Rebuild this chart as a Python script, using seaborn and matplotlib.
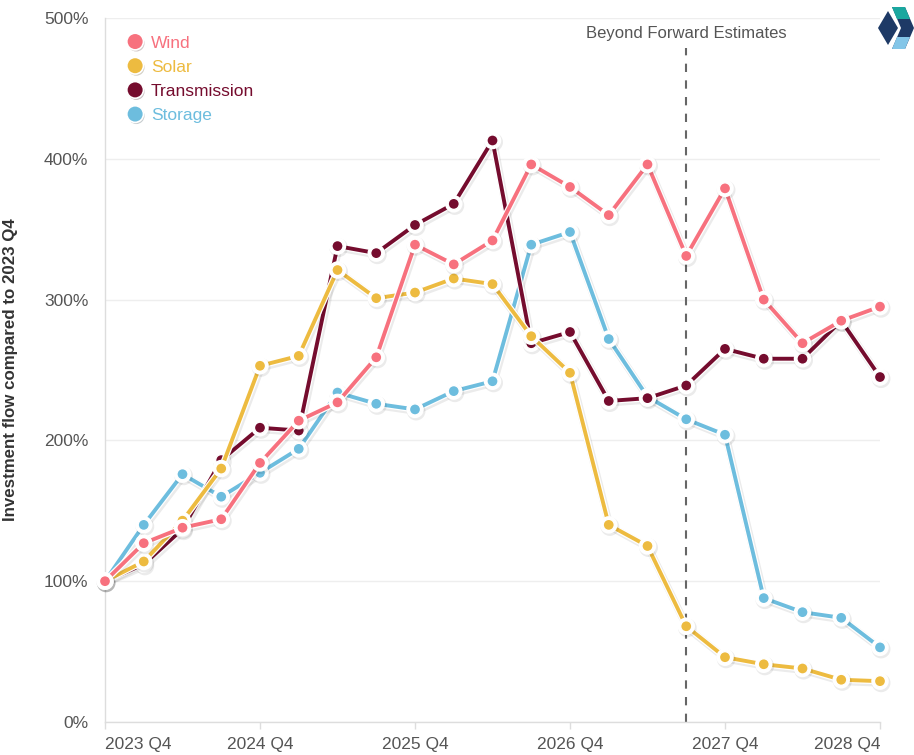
import matplotlib
matplotlib.use("Agg")
import matplotlib.pyplot as plt
import matplotlib.patheffects as pe
from matplotlib.patches import Polygon
import matplotlib.colors as mcolors
import seaborn as sns
import pandas as pd
import numpy as np

quarters = ["2023 Q4", "2024 Q1", "2024 Q2", "2024 Q3", "2024 Q4", "2025 Q1", "2025 Q2",
            "2025 Q3", "2025 Q4", "2026 Q1", "2026 Q2", "2026 Q3", "2026 Q4", "2027 Q1",
            "2027 Q2", "2027 Q3", "2027 Q4", "2028 Q1", "2028 Q2", "2028 Q3", "2028 Q4"]

wind = [100, 127, 138, 144, 184, 214, 227, 259, 339, 325, 342, 396, 380, 360, 396, 331,
        379, 300, 269, 285, 295]
solar = [100, 114, 143, 180, 253, 260, 321, 301, 305, 315, 311, 274, 248, 140, 125, 68,
         46, 41, 38, 30, 29]
transmission = [100, 112, 137, 186, 209, 207, 338, 333, 353, 368, 413, 269, 277, 228, 230,
                239, 265, 258, 258, 285, 245]
storage = [100, 140, 176, 160, 177, 194, 234, 226, 222, 235, 242, 339, 348, 272, 231, 215,
           204, 88, 78, 74, 53]

series_names = ["Wind", "Solar", "Transmission", "Storage"]
colors = {"Wind": "#F7717E", "Solar": "#EDBB40", "Transmission": "#750C2E", "Storage": "#6DBDDE"}
tick_labels = ["2023 Q4", "2024 Q4", "2025 Q4", "2026 Q4", "2027 Q4", "2028 Q4"]
forecast_quarter = "2027 Q3"
annotation = "Beyond Forward Estimates"

frames = []
for name, vals in zip(series_names, [wind, solar, transmission, storage]):
    frames.append(pd.DataFrame({"idx": np.arange(len(quarters)), "quarter": quarters,
                                "value": vals, "series": name}))
df = pd.concat(frames, ignore_index=True)

sns.set_theme(style="white")
plt.rcParams["font.family"] = ["Liberation Sans", "DejaVu Sans"]

W, H = 914, 755
fig = plt.figure(figsize=(W / 100, H / 100), dpi=100)
ax = fig.add_axes([105 / W, 1 - 722 / H, (880 - 105) / W, (722 - 18) / H])

sns.lineplot(data=df, x="idx", y="value", hue="series", palette=colors,
             hue_order=series_names, marker="o", markersize=8, linewidth=2.8,
             markeredgecolor="white", markeredgewidth=1.0, ax=ax, legend=False)

zorders = {"Wind": 6, "Solar": 5, "Transmission": 4, "Storage": 3}
color_to_name = {mcolors.to_hex(c): n for n, c in colors.items()}
for line in ax.lines:
    name = color_to_name.get(mcolors.to_hex(line.get_color()))
    if name is None:
        continue
    line.set_zorder(zorders[name])
    line.set_clip_on(False)
    line.set_path_effects([
        pe.SimpleLineShadow(offset=(0.8, -1.2), shadow_color="black", alpha=0.08, linewidth=5.5),
        pe.Stroke(linewidth=4.6, foreground="white"),
        pe.Normal()])

ax.set_xlim(0, len(quarters) - 1)
ax.set_ylim(0, 500)
ax.set_yticks([0, 100, 200, 300, 400, 500])
ax.set_yticklabels([f"{v}%" for v in [0, 100, 200, 300, 400, 500]])
xt = [quarters.index(t) for t in tick_labels]
ax.set_xticks(xt)
ax.set_xticklabels(tick_labels)
xl = ax.get_xticklabels()
xl[0].set_horizontalalignment("left")
xl[-1].set_horizontalalignment("right")

ax.tick_params(axis="x", length=5, width=1, color="#dddddd", labelsize=12.5,
               labelcolor="#555555", pad=6, direction="out", bottom=True)
ax.tick_params(axis="y", length=0, labelsize=12.5, labelcolor="#555555", pad=12)
ax.grid(axis="y", color="#eeeeee", linewidth=1)
ax.grid(axis="x", visible=False)
ax.set_axisbelow(True)
for s in ["top", "right"]:
    ax.spines[s].set_visible(False)
ax.spines["left"].set_color("#dddddd")
ax.spines["bottom"].set_color("#dddddd")
ax.spines["left"].set_linewidth(1)
ax.spines["bottom"].set_linewidth(1)

ax.set_xlabel("")
ax.set_ylabel("Investment flow compared to 2023 Q4", fontsize=12.2, fontweight="bold",
              color="#333333")
ax.yaxis.set_label_coords(-(105 - 18) / (880 - 105), 0.5)

fx = quarters.index(forecast_quarter)
ax.plot([fx, fx], [0, 479], linestyle=(0, (4, 4)), color="#666666", linewidth=1.5,
        zorder=2, clip_on=False)
ax.text(fx, 489, annotation, ha="center", va="center", fontsize=12, color="#555555")

# legend
handles = [plt.Line2D([], [], marker="o", linestyle="none", markersize=12,
                      markerfacecolor=colors[n], markeredgecolor="white",
                      markeredgewidth=1.2,
                      path_effects=[pe.SimplePatchShadow(offset=(0.8, -1.2), alpha=0.25),
                                    pe.Normal()])
           for n in series_names]
leg = ax.legend(handles, series_names, loc="upper left", bbox_to_anchor=(0.012, 0.99),
                frameon=False, fontsize=12.5, handletextpad=0.3, labelspacing=0.52,
                handlelength=1.2, borderaxespad=0.2)
for txt, n in zip(leg.get_texts(), series_names):
    txt.set_color(colors[n])

# logo
def px(pts):
    return [(x / W, 1 - y / H) for x, y in pts]

navy = "#1E3A66"
fig.add_artist(Polygon(px([(888, 11), (898, 28), (888, 45), (878, 28)]),
                       closed=True, facecolor=navy, edgecolor="none",
                       transform=fig.transFigure))
fig.add_artist(Polygon(px([(892, 7), (905, 7), (914, 28), (905, 49), (892, 49), (901, 28)]),
                       closed=True, facecolor=navy, edgecolor="none",
                       transform=fig.transFigure))
fig.add_artist(Polygon(px([(892, 7), (905, 7), (910, 19), (897, 19)]),
                       closed=True, facecolor="#1AA79F", edgecolor="none",
                       transform=fig.transFigure))
fig.add_artist(Polygon(px([(897, 37), (910, 37), (905, 49), (892, 49)]),
                       closed=True, facecolor="#84C6E8", edgecolor="none",
                       transform=fig.transFigure))

fig.savefig("out.png", dpi=100, facecolor="white")
